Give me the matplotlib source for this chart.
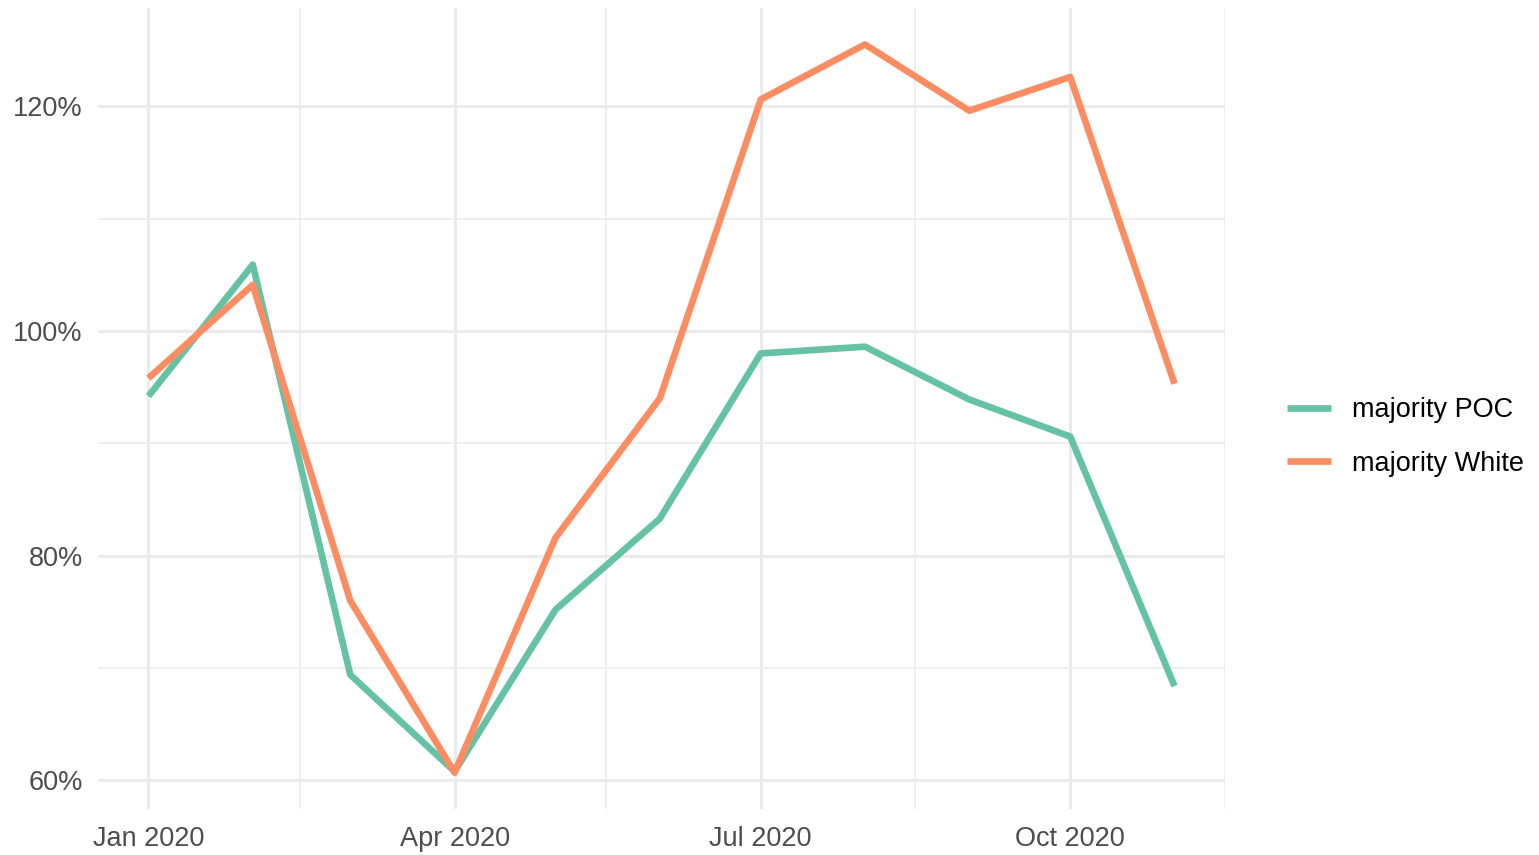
import datetime
import matplotlib
matplotlib.use("Agg")
import matplotlib.pyplot as plt
import matplotlib.dates as mdates
from matplotlib.ticker import FuncFormatter, FixedLocator

plt.rcParams['font.family'] = ['Liberation Sans', 'DejaVu Sans']

months = [datetime.date(2020, m, 1) for m in range(1, 12)]
poc = [94.2, 105.9, 69.4, 60.8, 75.2, 83.3, 98.0, 98.6, 93.9, 90.6, 68.4]
white = [95.8, 104.1, 76.0, 60.7, 81.6, 94.0, 120.6, 125.5, 119.6, 122.6, 95.3]
series_names = ["majority POC", "majority White"]
colors = ["#66C2A5", "#FC8D62"]

major_dates = [datetime.date(2020, 1, 1), datetime.date(2020, 4, 1),
               datetime.date(2020, 7, 1), datetime.date(2020, 10, 1)]
minor_dates = [datetime.date(2020, 2, 15), datetime.date(2020, 5, 16),
               datetime.date(2020, 8, 16), datetime.date(2020, 11, 16)]
y_major = [60, 80, 100, 120]
y_minor = [70, 90, 110]

fig = plt.figure(figsize=(15.39, 8.55), dpi=100)
ax = fig.add_axes([98 / 1539, 46 / 855, 1127 / 1539, 801 / 855])

for vals, name, c in zip([poc, white], series_names, colors):
    ax.plot(months, vals, color=c, lw=4.8, label=name, solid_capstyle='butt', zorder=3)

ax.set_xlim(datetime.date(2019, 12, 17), datetime.date(2020, 11, 16))
ax.set_ylim(57.46, 128.74)

ax.xaxis.set_major_locator(FixedLocator(mdates.date2num(major_dates)))
ax.xaxis.set_minor_locator(FixedLocator(mdates.date2num(minor_dates)))
ax.xaxis.set_major_formatter(mdates.DateFormatter("%b %Y"))
ax.yaxis.set_major_locator(FixedLocator(y_major))
ax.yaxis.set_minor_locator(FixedLocator(y_minor))
ax.yaxis.set_major_formatter(FuncFormatter(lambda v, p: "%d%%" % v))

ax.grid(True, which='major', color='#EBEBEB', lw=2.2, zorder=0)
ax.grid(True, which='minor', color='#EBEBEB', lw=1.1, zorder=0)
ax.tick_params(which='both', length=0, labelsize=19.5, labelcolor='#4D4D4D')
ax.tick_params(axis='x', pad=12)
ax.tick_params(axis='y', pad=11)
for s in ax.spines.values():
    s.set_visible(False)

fig.legend(loc='center left', bbox_to_anchor=(1263 / 1539, 1 - 437 / 855),
           frameon=False, fontsize=19.5, handlelength=1.6, handletextpad=0.8,
           labelspacing=1.0)

plt.savefig('out.png', dpi=100)
